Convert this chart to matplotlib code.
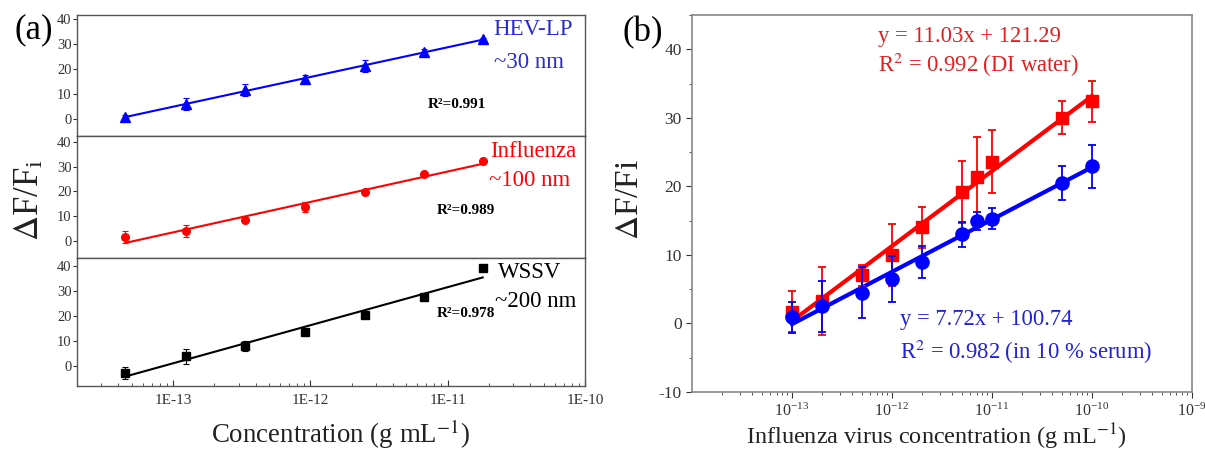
import matplotlib
matplotlib.use("Agg")
import matplotlib.pyplot as plt
import numpy as np
from matplotlib.ticker import FuncFormatter, LogLocator, NullFormatter, MultipleLocator

plt.rcParams['font.family'] = ['Liberation Serif', 'DejaVu Serif']
plt.rcParams['mathtext.fontset'] = 'stix'
plt.rcParams['axes.unicode_minus'] = False

# ---- panel (a) data ----
conc_a = [4.5e-14, 1.24e-13, 3.36e-13, 9.2e-13, 2.5e-12, 6.7e-12, 1.8e-11]
hev = [0.8, 6.0, 11.6, 16.0, 21.2, 26.6, 32.0]
hev_err = [0.8, 2.5, 2.5, 1.5, 2.5, 1.5, 0.5]
flu = [1.6, 4.0, 8.5, 13.6, 19.7, 27.0, 32.3]
flu_err = [2.5, 2.5, 1.0, 2.0, 1.0, 0.5, 0.5]
wssv = [-2.8, 4.0, 8.0, 13.6, 20.4, 27.6, 39.0]
wssv_err = [2.5, 3.0, 2.0, 1.0, 1.0, 1.0, 0.5]
r2_a = ['0.991', '0.989', '0.978']
ticks_a = [1e-13, 1e-12, 1e-11, 1e-10]

# ---- panel (b) data ----
conc_b = [1e-13, 2e-13, 5e-13, 1e-12, 2e-12, 5e-12, 7e-12, 1e-11, 5e-11, 1e-10]
water = [1.7, 3.3, 7.0, 10.0, 14.0, 19.2, 21.4, 23.6, 30.0, 32.4]
water_err = [3.0, 5.0, 1.5, 4.5, 3.0, 4.5, 5.8, 4.6, 2.4, 3.0]
serum = [0.9, 2.5, 4.5, 6.5, 9.0, 13.0, 14.9, 15.3, 20.5, 22.9]
serum_err = [2.3, 3.7, 3.7, 3.4, 2.3, 1.8, 1.3, 1.5, 2.5, 3.2]
ticks_b = [1e-13, 1e-12, 1e-11, 1e-10, 1e-9]

fig = plt.figure(figsize=(12.05, 4.5), dpi=100)

spine_c = '#555555'
tick_c = '#333333'


def fit_line(ax, x, y, color, lw):
    lx = np.log10(x)
    k, b = np.polyfit(lx, y, 1)
    xs = np.array([lx[0], lx[-1]])
    ax.plot(10 ** xs, k * xs + b, color=color, lw=lw, zorder=2)


# panel (a): three stacked axes
left, width = 0.0639, 0.4216
boxes = [(0.6978, 0.2689), (0.4267, 0.2711), (0.1422, 0.2845)]
ylims = [(-6.8, 41.6), (-6.9, 42.4), (-8, 43.2)]
series = [(hev, hev_err, 'blue', '^', 6.5),
          (flu, flu_err, 'red', 'o', 5.5),
          (wssv, wssv_err, 'black', 's', 5.5)]
axes_a = []
for i in range(3):
    ax = fig.add_axes([left, boxes[i][0], width, boxes[i][1]])
    y, e, c, m, ms = series[i]
    ax.errorbar(conc_a, y, yerr=e, fmt=m, color=c, ms=ms, capsize=2.5,
                elinewidth=0.8, capthick=0.8, zorder=3)
    fit_line(ax, conc_a, y, c, 1.5)
    ax.set_xscale('log')
    ax.set_xlim(2e-14, 1e-10)
    ax.set_ylim(*ylims[i])
    ax.set_xticks(ticks_a)
    ax.set_yticks([0, 10, 20, 30, 40])
    ax.tick_params(axis='y', direction='out', length=3, labelsize=10.5,
                   colors=tick_c, pad=1)
    ax.xaxis.set_minor_locator(LogLocator(base=10, subs=np.arange(2, 10)))
    ax.xaxis.set_minor_formatter(NullFormatter())
    for s in ax.spines.values():
        s.set_color(spine_c)
        s.set_linewidth(1.0)
    if i < 2:
        ax.tick_params(axis='x', which='both', bottom=False, labelbottom=False)
    else:
        ax.tick_params(axis='x', which='major', direction='in', length=4,
                       labelsize=11, colors=tick_c, pad=6)
        ax.tick_params(axis='x', which='minor', direction='in', length=2.5,
                       colors=tick_c)
        ax.xaxis.set_major_formatter(FuncFormatter(lambda v, p: '1E%d' % round(np.log10(v))))
    axes_a.append(ax)

# virus names and sizes
names = [('HEV-LP', '~30 nm', '#2a2ad0', (0.819, 0.876), (0.821, 0.61)),
         ('Influenza', '~100 nm', 'red', (0.813, 0.869), (0.811, 0.639)),
         ('WSSV', '~200 nm', 'black', (0.829, 0.89), (0.823, 0.664))]
for ax, (n1, n2, c, p1, p2) in zip(axes_a, names):
    ax.text(p1[0], p1[1], n1, transform=ax.transAxes, color=c,
            fontsize=16.5, ha='left', va='center')
    ax.text(p2[0], p2[1], n2, transform=ax.transAxes, color=c,
            fontsize=16.5, ha='left', va='center')

r2_pos = [(0.691, 0.264), (0.709, 0.393), (0.709, 0.5625)]
for ax, r, (px, py) in zip(axes_a, r2_a, r2_pos):
    ax.text(px, py, 'R²=' + r, transform=ax.transAxes, fontsize=11,
            fontweight='bold', ha='left', va='center')

fig.text(0.283, 0.035, r'Concentration (g mL$^{-1}$)', fontsize=19.4,
         ha='center', va='center', color='#222222')
fig.text(0.025, 0.555, r'$\Delta$F/F$_\mathregular{i}$', fontsize=25,
         rotation=90, ha='center', va='center', color='#222222')
fig.text(0.028, 0.933, '(a)', fontsize=25, ha='center', va='center')

# panel (b)
axb = fig.add_axes([0.5743, 0.1289, 0.4149, 0.8378])
axb.errorbar(conc_b, water, yerr=water_err, fmt='s', color='red', ms=8,
             capsize=3, elinewidth=1.3, capthick=1.3, zorder=3)
axb.errorbar(conc_b, serum, yerr=serum_err, fmt='o', color='blue', ms=9.5,
             capsize=3, elinewidth=1.3, capthick=1.3, zorder=4)
fit_line(axb, conc_b, water, 'red', 3)
fit_line(axb, conc_b, serum, 'blue', 3)
axb.set_xscale('log')
axb.set_xlim(1e-14, 1e-9)
axb.set_ylim(-10, 45)
axb.set_xticks(ticks_b)
axb.xaxis.set_major_formatter(FuncFormatter(
    lambda v, p: r'10$^{\mathregular{%d}}$' % round(np.log10(v))))
axb.xaxis.set_minor_locator(LogLocator(base=10, subs=np.arange(2, 10)))
axb.xaxis.set_minor_formatter(NullFormatter())
axb.yaxis.set_minor_locator(MultipleLocator(5))
axb.set_yticks([-10, 0, 10, 20, 30, 40])
axb.tick_params(which='major', direction='out', length=4, labelsize=12.5,
                colors=tick_c)
axb.tick_params(axis='x', which='major', labelsize=11.5)
axb.tick_params(which='minor', direction='out', length=2.5, colors=tick_c)
for s in axb.spines.values():
    s.set_color('#888888')
    s.set_linewidth(1.2)

axb.text(0.372, 0.944, 'y = 11.03x + 121.29', transform=axb.transAxes,
         color='#e02020', fontsize=16.3, ha='left', va='center')
axb.text(0.372, 0.867, r'R$^2$ = 0.992 (DI water)', transform=axb.transAxes,
         color='#e02020', fontsize=16.3, ha='left', va='center')
axb.text(0.416, 0.191, 'y = 7.72x + 100.74', transform=axb.transAxes,
         color='#2020e0', fontsize=16.3, ha='left', va='center')
axb.text(0.416, 0.106, r'R$^2$ = 0.982 (in 10 % serum)', transform=axb.transAxes,
         color='#2020e0', fontsize=16.3, ha='left', va='center')

fig.text(0.777, 0.03, r'Influenza virus concentration (g mL$^{-1}$)',
         fontsize=17.5, ha='center', va='center', color='#222222')
fig.text(0.5228, 0.556, r'$\Delta$F/Fi', fontsize=24, rotation=90,
         ha='center', va='center', color='#222222')
fig.text(0.533, 0.927, '(b)', fontsize=25, ha='center', va='center')

fig.savefig('out.png', dpi=100)
